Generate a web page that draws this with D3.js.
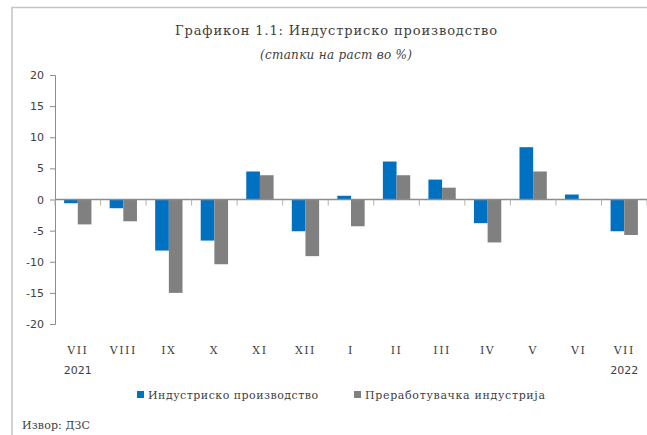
<!DOCTYPE html>
<html>
<head>
<meta charset="utf-8">
<script src="https://cdn.jsdelivr.net/npm/d3@7"></script>
<style>
  html, body { margin: 0; padding: 0; background: #fff; }
  svg { display: block; }
</style>
</head>
<body>
<div id="chart"></div>
<script>
// month labels (July 2021 - July 2022)
const months = ["VII", "VIII", "IX", "X", "XI", "XII", "I", "II", "III", "IV", "V", "VI", "VII"];
const years = ["2021", "", "", "", "", "", "", "", "", "", "", "", "2022"];

// growth rates, %
const industrial = [-0.6, -1.4, -8.2, -6.6, 4.5, -5.1, 0.6, 6.1, 3.2, -3.8, 8.4, 0.8, -5.1];
const manufacturing = [-4.0, -3.5, -15.0, -10.4, 3.9, -9.1, -4.3, 3.9, 1.9, -6.9, 4.5, 0.0, -5.7];

const seriesNames = ["Индустриско производство", "Преработувачка индустрија"];
const colors = ["#0070c0", "#808080"];
const yTicks = [-20, -15, -10, -5, 0, 5, 10, 15, 20];

const width = 647, height = 435;
const serif = "'DejaVu Serif', 'Liberation Serif', serif";
const sans = "'DejaVu Sans', Verdana, sans-serif";

const svg = d3.select("#chart").append("svg")
  .attr("width", width)
  .attr("height", height);

// outer frame (only left and top visible in the crop)
svg.append("path")
  .attr("d", "M12,435 V7.5 H647")
  .attr("fill", "none")
  .attr("stroke", "#c4c4c4")
  .attr("stroke-width", 1.5);

const x = d3.scaleBand()
  .domain(d3.range(months.length))
  .range([55, 647]);

const step = x.step();
const xSub = d3.scaleBand()
  .domain([0, 1])
  .range([step * 0.2, step * 0.8]);

const y = d3.scaleLinear()
  .domain([-20, 20])
  .range([324, 75]);

// title
svg.append("text")
  .attr("x", 175).attr("y", 35)
  .attr("textLength", 322).attr("lengthAdjust", "spacing")
  .style("font-family", serif).style("font-size", "13px")
  .attr("fill", "#404040")
  .text("Графикон 1.1: Индустриско производство");

svg.append("text")
  .attr("x", 260).attr("y", 59)
  .attr("textLength", 152).attr("lengthAdjust", "spacing")
  .style("font-family", serif).style("font-size", "12px").style("font-style", "italic")
  .attr("fill", "#404040")
  .text("(стапки на раст во %)");

// y axis
const yAxis = svg.append("g")
  .attr("transform", "translate(55,0)")
  .call(d3.axisLeft(y).tickValues(yTicks).tickSize(5).tickPadding(6).tickFormat(d => String(d)));
yAxis.select(".domain").attr("stroke", "#8c8c8c");
yAxis.selectAll(".tick line").attr("stroke", "#8c8c8c");
yAxis.selectAll(".tick text")
  .style("font-family", sans).style("font-size", "11px")
  .attr("fill", "#404040");

// bars
const rows = months.map((m, i) => ({ i, vals: [industrial[i], manufacturing[i]] }));

const groups = svg.append("g").selectAll("g")
  .data(rows)
  .enter().append("g")
  .attr("transform", d => `translate(${x(d.i)},0)`);

groups.selectAll("rect")
  .data(d => d.vals.map((v, k) => ({ k, v })))
  .enter().append("rect")
  .attr("x", d => xSub(d.k))
  .attr("width", xSub.bandwidth())
  .attr("y", d => y(Math.max(0, d.v)))
  .attr("height", d => Math.abs(y(d.v) - y(0)))
  .attr("fill", d => colors[d.k]);

// zero line and category boundary ticks
svg.append("line")
  .attr("x1", 55).attr("x2", 647)
  .attr("y1", y(0)).attr("y2", y(0))
  .attr("stroke", "#8c8c8c").attr("stroke-width", 1.5);

svg.append("g").selectAll("line")
  .data(d3.range(months.length + 1))
  .enter().append("line")
  .attr("x1", i => 55 + i * step).attr("x2", i => 55 + i * step)
  .attr("y1", y(0)).attr("y2", y(0) + 6)
  .attr("stroke", "#b0b0b0");

// category labels
svg.append("g").selectAll("text")
  .data(months)
  .enter().append("text")
  .attr("x", (d, i) => x(i) + step / 2)
  .attr("y", 354)
  .attr("text-anchor", "middle")
  .style("font-family", serif).style("font-size", "11px")
  .style("letter-spacing", "1.5px")
  .attr("fill", "#404040")
  .text(d => d);

svg.append("g").selectAll("text")
  .data(years)
  .enter().append("text")
  .attr("x", (d, i) => x(i) + step / 2)
  .attr("y", 374)
  .attr("text-anchor", "middle")
  .style("font-family", sans).style("font-size", "11px")
  .attr("fill", "#404040")
  .text(d => d);

// legend
const legendX = [137, 354];
const legendLen = [170, 180];
const legend = svg.append("g").selectAll("g")
  .data(seriesNames)
  .enter().append("g")
  .attr("transform", (d, i) => `translate(${legendX[i]},391)`);

legend.append("rect")
  .attr("width", 7).attr("height", 7)
  .attr("fill", (d, i) => colors[i]);

legend.append("text")
  .attr("x", 11).attr("y", 7.5)
  .attr("textLength", (d, i) => legendLen[i]).attr("lengthAdjust", "spacing")
  .style("font-family", serif).style("font-size", "11px")
  .attr("fill", "#404040")
  .text(d => d);

// source
svg.append("text")
  .attr("x", 22).attr("y", 429)
  .attr("textLength", 68).attr("lengthAdjust", "spacing")
  .style("font-family", serif).style("font-size", "11px")
  .attr("fill", "#404040")
  .text("Извор: ДЗС");
</script>
</body>
</html>
